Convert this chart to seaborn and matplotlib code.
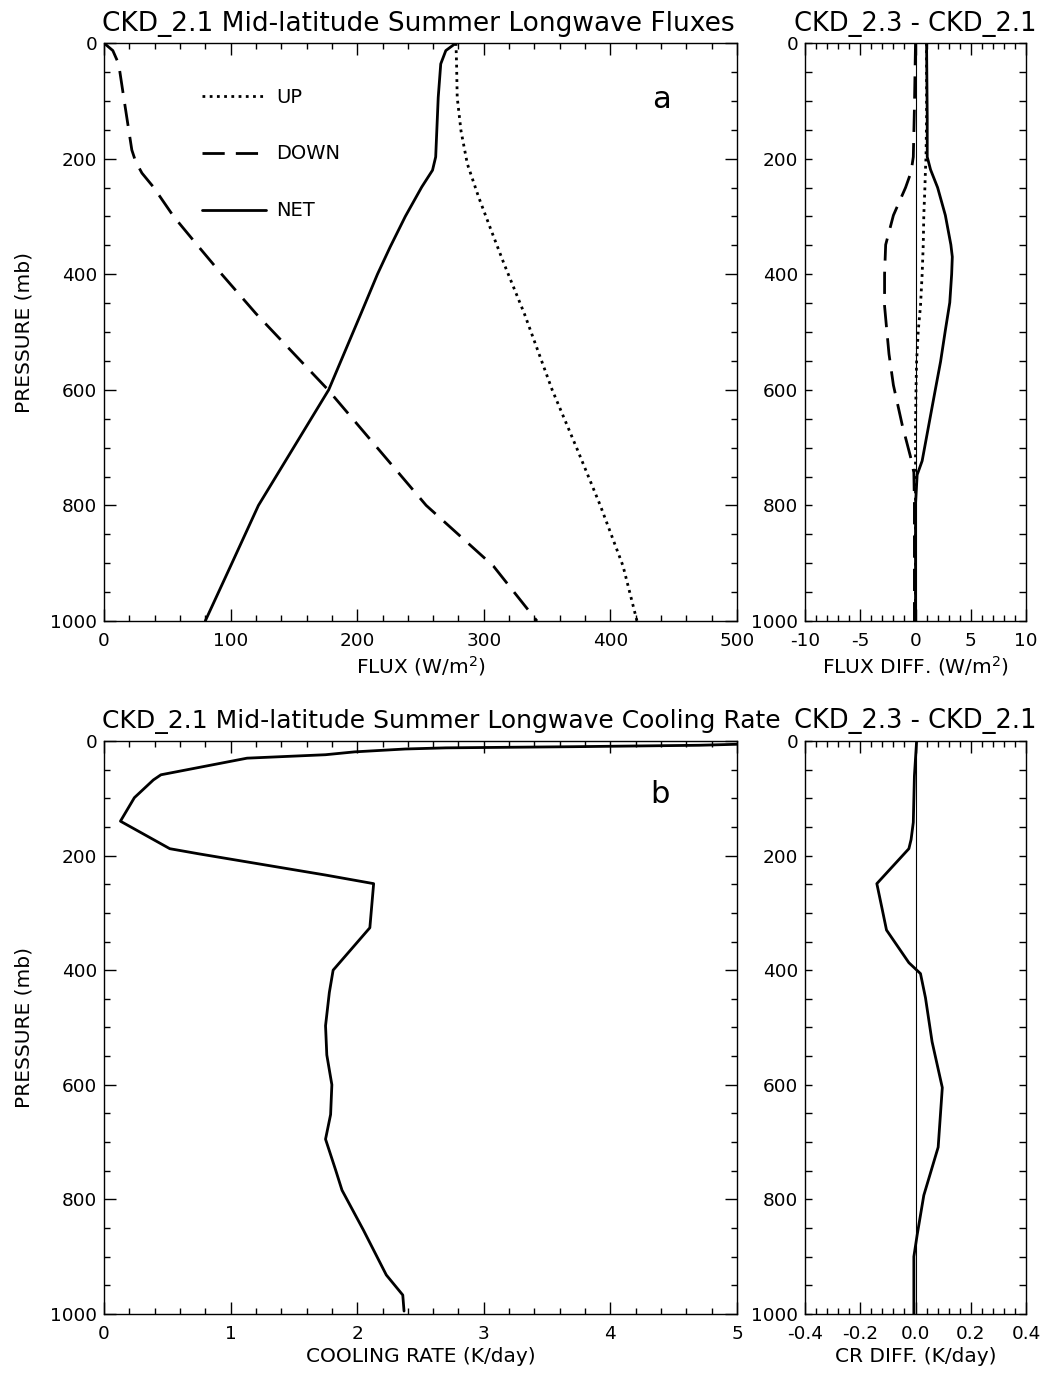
import numpy as np
import pandas as pd
import seaborn as sns
import matplotlib.pyplot as plt
from matplotlib.ticker import MultipleLocator, FormatStrFormatter

# ---- panel a: longwave fluxes (W/m2) vs pressure (mb) ----
up_p = [0, 36, 94, 152, 209, 267, 325, 382, 468, 600, 704, 800, 905, 1000]
up_flux = [278, 278.5, 279, 282, 287, 296, 306, 316, 332, 354, 374, 392, 410, 421]

down_p = [0, 13, 36, 94, 151, 185, 205, 225, 249, 300, 353, 400, 468, 600, 800, 905, 1000]
down_flux = [0, 7, 11.6, 15.6, 19.6, 22, 25, 30, 39, 55, 75, 93, 120, 177, 254.5, 307.6, 342]

net_p = [0, 13, 36, 94, 197, 220, 249, 300, 353, 400, 468, 600, 800, 905, 1000]
net_flux = [278, 270, 266, 264, 262, 259.5, 251, 238, 226, 216, 203, 177.5, 122, 100, 80]

# ---- flux differences CKD_2.3 - CKD_2.1 ----
net_diff_p = [0, 130, 197, 219, 250, 298, 349, 370, 400, 449, 497, 551, 599, 661, 723, 747, 798, 1000]
net_diff = [1.0, 1.06, 1.06, 1.36, 2.0, 2.7, 3.2, 3.33, 3.27, 3.1, 2.7, 2.27, 1.8, 1.2, 0.6, 0.15, 0.0, 0.0]

down_diff_p = [0, 113, 197, 223, 250, 298, 349, 400, 455, 497, 538, 592, 661, 716, 743, 798, 1000]
down_diff = [0, -0.1, -0.2, -0.4, -0.9, -2.0, -2.7, -2.8, -2.8, -2.6, -2.4, -2.0, -1.2, -0.45, -0.15, -0.1, -0.1]

up_diff_p = [0, 130, 197, 219, 250, 298, 349, 400, 455, 497, 551, 592, 661, 1000]
up_diff = [1.0, 1.0, 0.95, 0.9, 0.85, 0.75, 0.7, 0.6, 0.45, 0.25, 0.1, 0.05, 0.0, 0.0]

# ---- panel b: cooling rate (K/day) ----
cr_p = [4, 7.5, 10, 12, 14, 19, 24, 30, 59, 68, 99, 140, 188, 197, 234, 249, 326, 400,
        439, 497, 548, 600, 652, 695, 749, 784, 854, 932, 967, 995]
cr = [5.3, 4.7, 3.7, 2.7, 2.38, 1.98, 1.75, 1.13, 0.45, 0.39, 0.24, 0.13, 0.52, 0.75, 1.75, 2.13, 2.1, 1.81,
      1.78, 1.75, 1.76, 1.80, 1.79, 1.75, 1.83, 1.88, 2.05, 2.23, 2.36, 2.37]

cr_diff_p = [0, 61, 142, 172, 188, 249, 295, 330, 387, 406, 448, 525, 605, 709, 793, 862, 900, 1000]
cr_diff = [0.004, -0.004, -0.008, -0.016, -0.024, -0.14, -0.12, -0.105, -0.024, 0.018, 0.036, 0.06,
           0.097, 0.082, 0.03, 0.006, -0.006, -0.006]

DOT = (0, (1, 1.6))
DASH = (0, (8, 4))
LW = 2.0


def style_axes(ax, x_minor, ymajor_len, yminor_len):
    ax.set_ylim(1000, 0)
    ax.yaxis.set_major_locator(MultipleLocator(200))
    ax.yaxis.set_minor_locator(MultipleLocator(50))
    ax.xaxis.set_minor_locator(MultipleLocator(x_minor))
    ax.tick_params(axis='both', which='both', direction='in', top=True, right=True,
                   bottom=True, left=True, labelsize=13.3, width=1.0, colors='black')
    ax.tick_params(axis='x', which='major', length=8.5, pad=8)
    ax.tick_params(axis='x', which='minor', length=4.3)
    ax.tick_params(axis='y', which='major', length=ymajor_len, pad=5)
    ax.tick_params(axis='y', which='minor', length=yminor_len)
    for s in ax.spines.values():
        s.set_linewidth(1.0)
        s.set_color('black')
    ax.grid(False)


def profile(ax, x, p, ls, label=None):
    sns.lineplot(x=x, y=p, ax=ax, sort=False, estimator=None, color='black',
                 linestyle=ls, linewidth=LW, label=label, legend=False)


sns.set_theme(style="white")
plt.rcParams['font.family'] = ['DejaVu Sans']
plt.rcParams.update({
    'axes.unicode_minus': False,
    'mathtext.default': 'regular',
    'text.color': 'black',
    'axes.labelcolor': 'black',
    'axes.titlecolor': 'black',
    'xtick.color': 'black',
    'ytick.color': 'black',
    'axes.edgecolor': 'black',
})

fig = plt.figure(figsize=(10.46, 13.76), dpi=100)
ax_a = fig.add_axes([0.0994, 0.5487, 0.6052, 0.4200])
ax_ad = fig.add_axes([0.7696, 0.5487, 0.2113, 0.4200])
ax_b = fig.add_axes([0.0994, 0.0451, 0.6052, 0.4164])
ax_bd = fig.add_axes([0.7696, 0.0451, 0.2113, 0.4164])

label_kw = dict(fontsize=14.5, color='black')
TPAD = 9

# panel a
profile(ax_a, up_flux, up_p, DOT, 'UP')
profile(ax_a, down_flux, down_p, DASH, 'DOWN')
profile(ax_a, net_flux, net_p, '-', 'NET')
ax_a.set_xlim(0, 500)
ax_a.xaxis.set_major_locator(MultipleLocator(100))
style_axes(ax_a, 20, 8.5, 4.3)
ax_a.set_title('CKD_2.1 Mid-latitude Summer Longwave Fluxes', fontsize=19, pad=TPAD, x=0.497)
ax_a.set_xlabel('FLUX (W/m$^2$)', labelpad=3, **label_kw)
ax_a.set_ylabel('PRESSURE (mb)', labelpad=12, **label_kw)
leg = ax_a.legend(loc='upper left', bbox_to_anchor=(0.155, 0.923), frameon=False, fontsize=14,
                  handlelength=3.3, handletextpad=0.5, labelspacing=1.95, borderpad=0,
                  borderaxespad=0)
for t in leg.get_texts():
    t.set_color('black')
ax_a.text(0.88, 0.903, 'a', transform=ax_a.transAxes, fontsize=22, ha='center', va='center')

# flux differences
ax_ad.axvline(0, color='black', lw=0.8)
profile(ax_ad, up_diff, up_diff_p, DOT)
profile(ax_ad, down_diff, down_diff_p, DASH)
profile(ax_ad, net_diff, net_diff_p, '-')
ax_ad.set_xlim(-10, 10)
ax_ad.xaxis.set_major_locator(MultipleLocator(5))
style_axes(ax_ad, 1, 5, 5)
ax_ad.set_title('CKD_2.3 - CKD_2.1', fontsize=18.5, pad=TPAD)
ax_ad.set_xlabel('FLUX DIFF. (W/m$^2$)', labelpad=3, **label_kw)
ax_ad.set_ylabel('')

# panel b
profile(ax_b, cr, cr_p, '-')
ax_b.set_xlim(0, 5)
ax_b.xaxis.set_major_locator(MultipleLocator(1))
style_axes(ax_b, 0.2, 8.5, 4.3)
ax_b.set_title('CKD_2.1 Mid-latitude Summer Longwave Cooling Rate', fontsize=18, pad=TPAD, x=0.533)
ax_b.set_xlabel('COOLING RATE (K/day)', labelpad=3, **label_kw)
ax_b.set_ylabel('PRESSURE (mb)', labelpad=12, **label_kw)
ax_b.text(0.878, 0.906, 'b', transform=ax_b.transAxes, fontsize=22, ha='center', va='center')

# cooling rate difference
ax_bd.axvline(0, color='black', lw=0.8)
profile(ax_bd, cr_diff, cr_diff_p, '-')
ax_bd.set_xlim(-0.4, 0.4)
ax_bd.xaxis.set_major_locator(MultipleLocator(0.2))
ax_bd.xaxis.set_major_formatter(FormatStrFormatter('%.1f'))
style_axes(ax_bd, 0.04, 5, 5)
ax_bd.set_title('CKD_2.3 - CKD_2.1', fontsize=18.5, pad=TPAD)
ax_bd.set_xlabel('CR DIFF. (K/day)', labelpad=3, **label_kw)
ax_bd.set_ylabel('')

fig.savefig('out.png', dpi=100, facecolor='white')
